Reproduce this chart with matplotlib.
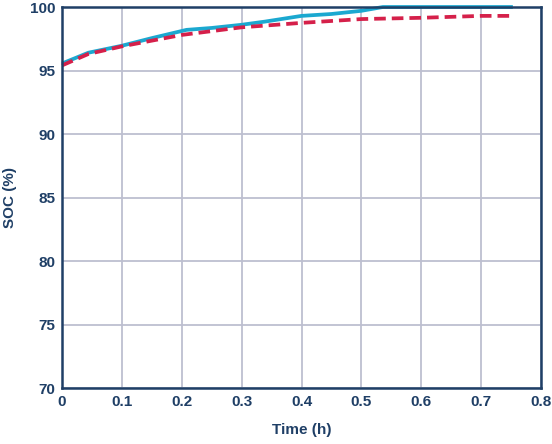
import matplotlib
matplotlib.use("Agg")
import matplotlib.pyplot as plt

# --- data --- #
blue_t = [0, 0.044, 0.1, 0.15, 0.208, 0.25, 0.3, 0.339, 0.4, 0.45, 0.5, 0.536, 0.6, 0.7, 0.753]
blue_soc = [95.55, 96.4, 96.95, 97.55, 98.2, 98.35, 98.6, 98.85, 99.3, 99.45, 99.7, 100, 100, 100, 100]
red_t = [0, 0.044, 0.1, 0.2, 0.3, 0.4, 0.5, 0.6, 0.7, 0.753]
red_soc = [95.4, 96.3, 96.9, 97.8, 98.4, 98.75, 99.05, 99.15, 99.3, 99.3]
x_ticks = [0, 0.1, 0.2, 0.3, 0.4, 0.5, 0.6, 0.7, 0.8]
x_labels = ["0", "0.1", "0.2", "0.3", "0.4", "0.5", "0.6", "0.7", "0.8"]
y_ticks = [70, 75, 80, 85, 90, 95, 100]

NAVY = "#1F3F66"
GRID = "#BDBFD0"

plt.rcParams['font.family'] = ['Liberation Sans', 'DejaVu Sans']

fig = plt.figure( figsize=(5.52, 4.44), dpi=100 )
ax = fig.add_axes( [62/552, 1-388/444, (541-62)/552, (388-7)/444] )

ax.plot( blue_t, blue_soc, color="#1BA8D0", lw=2.7, clip_on=False, zorder=3, solid_capstyle="butt" )
ax.plot( red_t, red_soc, color="#D5204A", lw=2.7, dashes=(3.1, 1.6), clip_on=False, zorder=4 )

ax.set_xlim( 0, 0.8 )
ax.set_ylim( 70, 100 )
ax.set_xticks( x_ticks )
ax.set_xticklabels( x_labels )
ax.set_yticks( y_ticks )
ax.grid( True, color=GRID, lw=1.3 )
ax.set_axisbelow( True )
ax.tick_params( length=0, labelsize=11, labelcolor=NAVY, pad=5 )
for lab in ax.get_xticklabels() + ax.get_yticklabels():
	lab.set_fontweight( "bold" )
for sp in ax.spines.values():
	sp.set_color( NAVY )
	sp.set_linewidth( 1.8 )
	sp.set_zorder( 5 )

ax.set_xlabel( "Time (h)", fontsize=11, fontweight="bold", color=NAVY, labelpad=10 )
ax.set_ylabel( "SOC (%)", fontsize=11, fontweight="bold", color=NAVY, labelpad=9 )

fig.savefig( "out.png", dpi=100 )
